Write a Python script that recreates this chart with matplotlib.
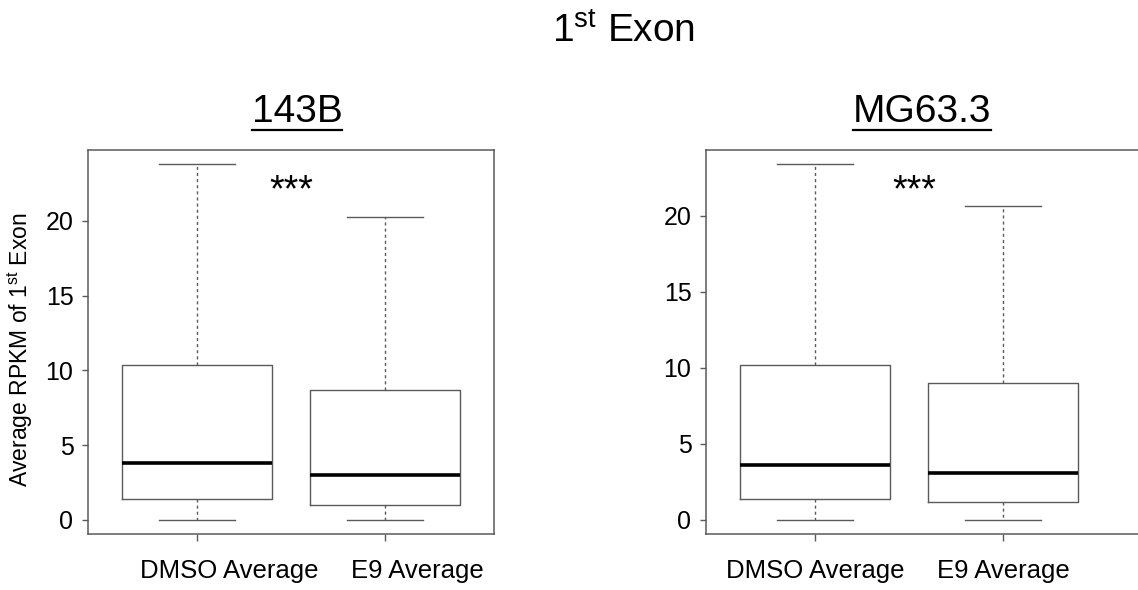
import matplotlib.pyplot as plt
from matplotlib.lines import Line2D
from matplotlib.transforms import ScaledTranslation

plt.rcParams['font.family'] = ['Liberation Sans', 'DejaVu Sans']
plt.rcParams['mathtext.fontset'] = 'custom'
plt.rcParams['mathtext.rm'] = 'Liberation Sans'
plt.rcParams['mathtext.it'] = 'Liberation Sans:italic'

groups = ['DMSO Average', 'E9 Average']
cell_lines = ['143B', 'MG63.3']

# five-number summaries per cell line: low whisker, Q1, median, Q3, high whisker
lo_143b = [0.0, 0.0]
q1_143b = [1.36, 1.02]
med_143b = [3.79, 2.97]
q3_143b = [10.37, 8.72]
hi_143b = [23.8, 20.27]

lo_mg63 = [0.0, 0.0]
q1_mg63 = [1.34, 1.14]
med_mg63 = [3.61, 3.09]
q3_mg63 = [10.18, 8.98]
hi_mg63 = [23.39, 20.63]

signif = '***'

W, H = 1138, 590
fig = plt.figure(figsize=(W / 100, H / 100), dpi=100)

def px(x0, y0, x1, y1):
    return [x0 / W, 1 - y1 / H, (x1 - x0) / W, (y1 - y0) / H]

grey = '#5a5a5a'

def panel(ax, lo, q1, med, q3, hi, xlim, star_x, star_y):
    stats = []
    for i in range(len(groups)):
        stats.append(dict(whislo=lo[i], q1=q1[i], med=med[i], q3=q3[i],
                          whishi=hi[i], fliers=[], label=groups[i]))
    ax.bxp(stats, positions=[1, 2], widths=0.8, capwidths=0.4,
           showfliers=False,
           boxprops=dict(color=grey, linewidth=1.0),
           medianprops=dict(color='black', linewidth=2.6),
           whiskerprops=dict(color=grey, linewidth=1.0, linestyle=(0, (2.2, 2.2))),
           capprops=dict(color=grey, linewidth=1.0))
    ax.set_xlim(*xlim)
    top = max(hi)
    ax.set_ylim(-0.04 * top, top * 1.04)
    ax.set_yticks([0, 5, 10, 15, 20])
    ax.tick_params(axis='y', labelsize=18, length=4.5, width=1.0, color=grey, pad=6)
    ax.tick_params(axis='x', labelsize=18.5, length=5, width=1.0, color=grey, pad=13)
    for s in ax.spines.values():
        s.set_color(grey)
        s.set_linewidth(1.1)
    ax.text(star_x, star_y, signif, ha='center', va='center', fontsize=27)

ax1 = fig.add_axes(px(88, 150, 494, 534))
panel(ax1, lo_143b, q1_143b, med_143b, q3_143b, hi_143b, (0.42, 2.58), 1.5, 22.0)
# group names on the left panel sit a bit right of the boxes
shift = ScaledTranslation(32 / 100, 0, fig.dpi_scale_trans)
for lab in ax1.get_xticklabels():
    lab.set_transform(lab.get_transform() + shift)

ax2 = fig.add_axes(px(706, 150, 1150, 534))
panel(ax2, lo_mg63, q1_mg63, med_mg63, q3_mg63, hi_mg63, (0.42, 0.42 + 444 / 188), 1.53, 21.6)

fig.text(20 / W, 1 - 350 / H, 'Average RPKM of 1$^{\\mathrm{st}}$ Exon',
         rotation=90, ha='center', va='center', fontsize=16.5)
fig.text(624 / W, 1 - 32 / H, '1$^{\\mathrm{st}}$ Exon', ha='center', va='center', fontsize=28)

titles = []
for name, cx in zip(cell_lines, [297, 922]):
    titles.append(fig.text(cx / W, 1 - 112 / H, name, ha='center', va='center', fontsize=28))

# underline the panel titles
fig.canvas.draw()
r = fig.canvas.get_renderer()
for t in titles:
    bb = t.get_window_extent(r)
    y = 1 - 129.5 / H
    fig.add_artist(Line2D([bb.x0 / W, bb.x1 / W], [y, y], color='black', linewidth=1.6,
                          transform=fig.transFigure))

fig.savefig('out.png', dpi=100)
